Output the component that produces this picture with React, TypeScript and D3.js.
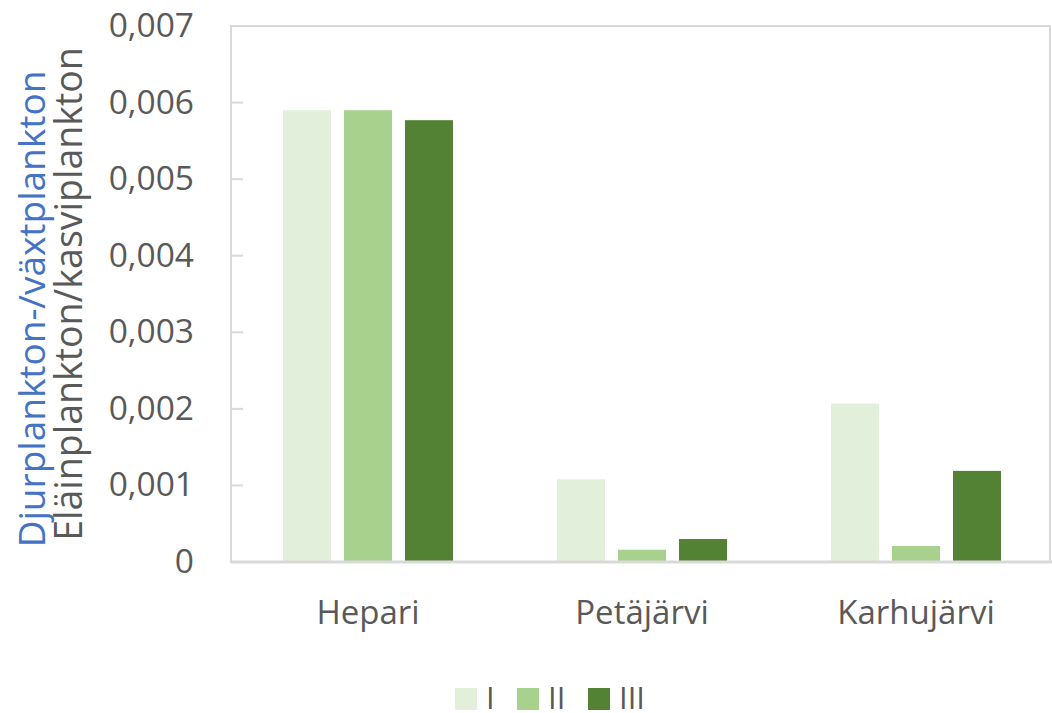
import { useEffect, useRef } from "react";
import * as d3 from "d3";

const lakes = ["Hepari", "Petäjärvi", "Karhujärvi"];
const seriesNames = ["I", "II", "III"];
const seriesI = [0.0059, 0.00108, 0.00207];
const seriesII = [0.0059, 0.00016, 0.00021];
const seriesIII = [0.00577, 0.0003, 0.00119];
const yTicks = [0, 0.001, 0.002, 0.003, 0.004, 0.005, 0.006, 0.007];
const colors = ["#E2EFDA", "#A9D18E", "#548235"];

export default function App() {
  const svgRef = useRef<SVGSVGElement>(null);
  const width = 1052;
  const height = 713;

  useEffect(() => {
    drawChart();
  }, []);

  function drawChart() {
    const left = 231;
    const right = 1053;
    const top = 26;
    const bottom = 562;
    const font = "'Open Sans', sans-serif";
    const textColor = "#595959";
    const lineColor = "#D9D9D9";

    const svg = d3.select(svgRef.current);
    svg.selectAll("*").remove();

    const x0 = d3.scaleBand().domain(lakes).range([left, right]);
    const x1 = d3
      .scaleBand()
      .domain(seriesNames)
      .range([52, x0.bandwidth() - 52])
      .paddingInner(0.213);
    const y = d3.scaleLinear().domain([0, 0.007]).range([bottom, top]);

    // plot frame
    svg
      .append("rect")
      .attr("x", left)
      .attr("y", top)
      .attr("width", right - left - 3)
      .attr("height", bottom - top)
      .attr("fill", "none")
      .attr("stroke", lineColor)
      .attr("stroke-width", 2);

    // ticks on the left axis
    svg
      .append("g")
      .selectAll("line")
      .data(yTicks)
      .join("line")
      .attr("x1", left)
      .attr("x2", left + 12)
      .attr("y1", (d) => y(d))
      .attr("y2", (d) => y(d))
      .attr("stroke", lineColor)
      .attr("stroke-width", 2);

    svg
      .append("g")
      .selectAll("text")
      .data(yTicks)
      .join("text")
      .attr("x", 194)
      .attr("y", (d) => y(d) - 1)
      .attr("dy", "0.36em")
      .attr("text-anchor", "end")
      .attr("font-family", font)
      .attr("font-size", 33.5)
      .attr("fill", textColor)
      .text((d) => (d === 0 ? "0" : d3.format(".3f")(d).replace(".", ",")));

    // bars
    const table = lakes.map((lake, i) => ({
      lake,
      values: [seriesI[i], seriesII[i], seriesIII[i]],
    }));

    svg
      .append("g")
      .selectAll("g")
      .data(table)
      .join("g")
      .attr("transform", (d) => `translate(${x0(d.lake)},0)`)
      .selectAll("rect")
      .data((d) => d.values.map((v, j) => ({ key: seriesNames[j], v, j })))
      .join("rect")
      .attr("x", (d) => x1(d.key)!)
      .attr("width", x1.bandwidth())
      .attr("y", (d) => y(d.v))
      .attr("height", (d) => bottom - y(d.v))
      .attr("fill", (d) => colors[d.j]);

    // bottom axis line drawn over bars
    svg
      .append("line")
      .attr("x1", left)
      .attr("x2", right)
      .attr("y1", bottom)
      .attr("y2", bottom)
      .attr("stroke", lineColor)
      .attr("stroke-width", 3);

    svg
      .append("g")
      .selectAll("text")
      .data(lakes)
      .join("text")
      .attr("x", (d) => x0(d)! + x0.bandwidth() / 2)
      .attr("y", 624)
      .attr("text-anchor", "middle")
      .attr("font-family", font)
      .attr("font-size", 33)
      .attr("fill", textColor)
      .text((d) => d);

    // y axis titles
    svg
      .append("text")
      .attr("transform", "translate(45,309) rotate(-90)")
      .attr("text-anchor", "middle")
      .attr("font-family", font)
      .attr("font-size", 37)
      .attr("fill", "#4472C4")
      .text("Djurplankton-/växtplankton");

    svg
      .append("text")
      .attr("transform", "translate(82,294) rotate(-90)")
      .attr("text-anchor", "middle")
      .attr("font-family", font)
      .attr("font-size", 37.5)
      .attr("fill", textColor)
      .text("Eläinplankton/kasviplankton");

    // legend
    const legendX = [455, 517, 588];
    const legend = svg
      .append("g")
      .selectAll("g")
      .data(seriesNames)
      .join("g")
      .attr("transform", (d, i) => `translate(${legendX[i]},688)`);

    legend
      .append("rect")
      .attr("width", 22)
      .attr("height", 22)
      .attr("fill", (d, i) => colors[i]);

    legend
      .append("text")
      .attr("x", 31)
      .attr("y", 10)
      .attr("dy", "0.36em")
      .attr("font-family", font)
      .attr("font-size", 31)
      .attr("fill", textColor)
      .text((d) => d);
  }

  return (
    <div style={{ position: "absolute", left: 0, top: 0 }}>
      <svg ref={svgRef} width={width} height={height} style={{ display: "block" }} />
    </div>
  );
}
